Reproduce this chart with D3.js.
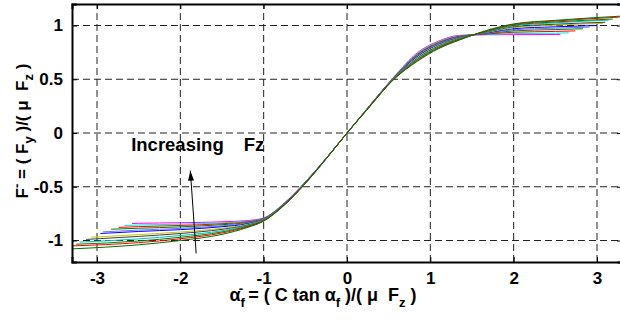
<!DOCTYPE html>
<html><head><meta charset="utf-8">
<script src="https://cdn.jsdelivr.net/npm/d3@7"></script>
<style>
html,body{margin:0;padding:0;background:#fff;}
svg{display:block;}
text{font-family:"Liberation Sans",Arial,Helvetica,sans-serif;font-weight:bold;fill:#000;white-space:pre;}
</style></head>
<body>
<svg id="chart" width="620" height="322"></svg>
<script>
// ---- data ----
const xTicks = [-3, -2, -1, 0, 1, 2, 3];
const yTicks = [-1, -0.5, 0, 0.5, 1];
const xTickLabels = ["-3", "-2", "-1", "0", "1", "2", "3"];
const yTickLabels = ["-1", "-0.5", "0", "0.5", "1"];
const xGrid = [-2.5, -2.0, -1.5, -1.2, -1.0, -0.75, -0.5, -0.25, 0, 0.25, 0.55, 0.85, 1.1, 1.35, 1.7, 2.0, 2.5];
const leftEnds = [[-2.58,-0.842],[-2.67,-0.860],[-2.74,-0.878],[-2.83,-0.895],[-2.93,-0.920],[-2.96,-0.935],
                  [-3.07,-0.970],[-3.13,-0.990],[-3.21,-1.015],[-3.25,-1.035],[-3.29,-1.050],[-3.30,-1.078]];
const rightEnds = [[2.56,0.917],[2.66,0.932],[2.74,0.950],[2.83,0.970],[2.91,0.985],[3.00,1.000],
                   [3.07,1.020],[3.10,1.030],[3.14,1.050],[3.19,1.060],[3.27,1.078],[3.35,1.090]];
const curveY = [
 [-0.840,-0.835,-0.826,-0.815,-0.790,-0.650,-0.455,-0.235,0,0.235,0.510,0.750,0.855,0.908,0.914,0.915,0.916],
 [-0.856,-0.848,-0.835,-0.821,-0.793,-0.652,-0.456,-0.235,0,0.234,0.508,0.743,0.849,0.904,0.918,0.925,0.928],
 [-0.871,-0.860,-0.844,-0.827,-0.796,-0.654,-0.458,-0.236,0,0.233,0.506,0.735,0.842,0.900,0.922,0.937,0.945],
 [-0.886,-0.873,-0.853,-0.833,-0.798,-0.655,-0.459,-0.236,0,0.232,0.505,0.728,0.836,0.896,0.926,0.950,0.962],
 [-0.903,-0.887,-0.863,-0.839,-0.801,-0.657,-0.460,-0.237,0,0.231,0.503,0.721,0.830,0.892,0.930,0.960,0.975],
 [-0.916,-0.899,-0.872,-0.845,-0.804,-0.659,-0.462,-0.237,0,0.230,0.501,0.714,0.823,0.888,0.934,0.970,0.988],
 [-0.945,-0.921,-0.886,-0.851,-0.806,-0.661,-0.463,-0.238,0,0.230,0.499,0.706,0.817,0.884,0.939,0.980,1.003],
 [-0.962,-0.935,-0.896,-0.857,-0.809,-0.663,-0.465,-0.238,0,0.229,0.497,0.699,0.810,0.880,0.943,0.988,1.012],
 [-0.985,-0.954,-0.909,-0.862,-0.812,-0.665,-0.466,-0.239,0,0.228,0.495,0.692,0.804,0.877,0.947,0.996,1.025],
 [-1.005,-0.970,-0.920,-0.868,-0.815,-0.666,-0.467,-0.239,0,0.227,0.494,0.685,0.798,0.873,0.951,1.003,1.033],
 [-1.020,-0.984,-0.930,-0.874,-0.817,-0.668,-0.469,-0.240,0,0.226,0.492,0.677,0.791,0.869,0.956,1.010,1.042],
 [-1.040,-1.000,-0.943,-0.880,-0.820,-0.670,-0.470,-0.240,0,0.225,0.490,0.670,0.785,0.865,0.960,1.015,1.048]
];
const curveColors = ["#ff00ff","#00e5e5","#ff0000","#008000","#7070ff","#0000ff",
                     "#c8c800","#404040","#00bfbf","#008000","#ff0000","#007000"];
const annotWords = ["Increasing", "Fz"];
const annotPos = [-2.59, -0.17];
const arrowFrom = [-1.81, -1.12];
const arrowTo = [-1.88, -0.35];

// ---- chart ----
const svg = d3.select("#chart");
const x = d3.scaleLinear().domain([-3.3, 3.3]).range([72, 622]);
const y = d3.scaleLinear().domain([-1.2, 1.2]).range([262, 4]);

svg.append("defs").append("clipPath").attr("id","clip")
  .append("rect").attr("x",72).attr("y",4).attr("width",550).attr("height",258);

// grid
const grid = svg.append("g");
grid.selectAll(".gx").data(xTicks).join("line")
  .attr("x1", d => x(d)).attr("x2", d => x(d)).attr("y1", y(-1.2)).attr("y2", y(1.2))
  .attr("stroke", "#222").attr("stroke-width", 1).attr("stroke-dasharray", "7,4");
grid.selectAll(".gy").data(yTicks).join("line")
  .attr("y1", d => y(d)).attr("y2", d => y(d)).attr("x1", x(-3.3)).attr("x2", x(3.3))
  .attr("stroke", "#222").attr("stroke-width", 1).attr("stroke-dasharray", "7,4");

// curves
const line = d3.line().x(d => x(d[0])).y(d => y(d[1])).curve(d3.curveMonotoneX);
const series = curveY.map((ys, i) => [leftEnds[i], ...xGrid.map((gx, j) => [gx, ys[j]]), rightEnds[i]]);
svg.append("g").attr("clip-path","url(#clip)")
  .selectAll("path").data(series).join("path")
  .attr("d", line).attr("fill","none")
  .attr("stroke", (d,i) => curveColors[i]).attr("stroke-width", 1);

// axes box + ticks (inward)
const axX = svg.append("g").attr("transform", `translate(0,${y(-1.2)})`)
  .call(d3.axisBottom(x).tickValues(xTicks).tickSize(-5).tickFormat((d,i) => xTickLabels[i]).tickPadding(10));
const axX2 = svg.append("g").attr("transform", `translate(0,${y(1.2)})`)
  .call(d3.axisTop(x).tickValues(xTicks).tickSize(-5).tickFormat(""));
const axY = svg.append("g").attr("transform", `translate(${x(-3.3)},0)`)
  .call(d3.axisLeft(y).tickValues(yTicks).tickSize(-5).tickFormat((d,i) => yTickLabels[i]).tickPadding(9));
const axY2 = svg.append("g").attr("transform", `translate(${x(3.3)},0)`)
  .call(d3.axisRight(y).tickValues(yTicks).tickSize(-5).tickFormat(""));
[axX, axX2, axY, axY2].forEach(a => {
  a.select(".domain").attr("stroke","#000").attr("stroke-width",2);
  a.selectAll(".tick line").attr("stroke","#000").attr("stroke-width",1);
  a.selectAll("text").attr("font-size", 17).attr("font-family", "Liberation Sans, Arial, sans-serif").attr("font-weight","bold").attr("fill","#000");
});

// annotation
const at = svg.append("text").attr("x", x(annotPos[0])).attr("y", y(annotPos[1])).attr("font-size", 18.5);
at.append("tspan").text(annotWords[0]);
at.append("tspan").attr("dx", 20).text(annotWords[1]);
const ax1 = x(arrowFrom[0]), ay1 = y(arrowFrom[1]), ax2 = x(arrowTo[0]), ay2 = y(arrowTo[1]);
svg.append("line").attr("x1", ax1).attr("y1", ay1).attr("x2", ax2).attr("y2", ay2)
  .attr("stroke","#000").attr("stroke-width",1);
{
  const ang = Math.atan2(ay2 - ay1, ax2 - ax1);
  const L = 10, W = 3;
  const bx = ax2 - L*Math.cos(ang), by = ay2 - L*Math.sin(ang);
  const px = -Math.sin(ang)*W, py = Math.cos(ang)*W;
  svg.append("path").attr("d", `M${ax2},${ay2}L${bx+px},${by+py}L${bx-px},${by-py}Z`).attr("fill","#000");
}

// axis labels
const xl = svg.append("text").attr("x", 323).attr("y", 301).attr("text-anchor","middle").attr("font-size",18);
xl.append("tspan").text("α");
xl.append("tspan").attr("dy", 6).attr("font-size", 13).text("f");
xl.append("tspan").attr("dx", -6).attr("dy", -14).attr("font-size", 13).text("-");
xl.append("tspan").attr("dy", 8).text(" = ( C tan α");
xl.append("tspan").attr("dy", 6).attr("font-size", 13).text("f");
xl.append("tspan").attr("dy", -6).text(" )/( μ  F");
xl.append("tspan").attr("dy", 6).attr("font-size", 13).text("z");
xl.append("tspan").attr("dy", -6).text(" )");

const yl = svg.append("text").attr("transform", "translate(28,131) rotate(-90)").attr("text-anchor","middle").attr("font-size",17);
yl.append("tspan").text("F");
yl.append("tspan").attr("dy", -7).attr("font-size", 13).text("-");
yl.append("tspan").attr("dy", 7).text(" = ( F");
yl.append("tspan").attr("dy", 5).attr("font-size", 13).text("y");
yl.append("tspan").attr("dy", -5).text(" )/( μ  F");
yl.append("tspan").attr("dy", 5).attr("font-size", 13).text("z");
yl.append("tspan").attr("dy", -5).text(" )");
</script>
</body></html>
